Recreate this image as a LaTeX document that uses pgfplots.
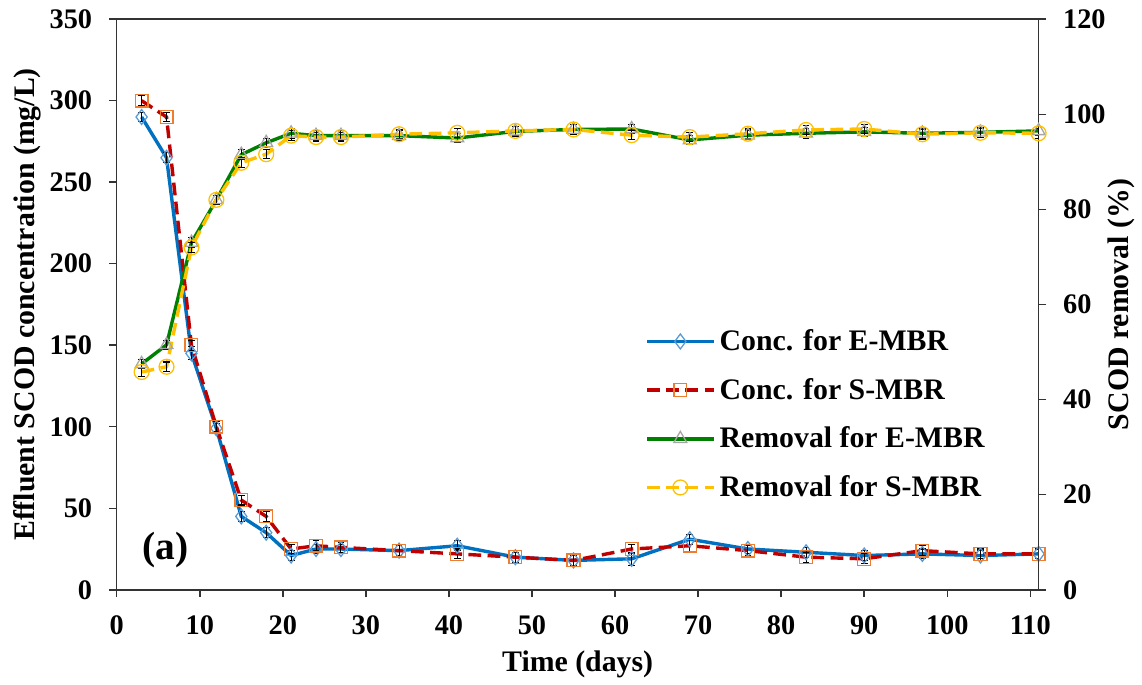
\documentclass[border=0pt]{standalone}
\usepackage{fontspec}
\setmainfont{Liberation Serif}
\usepackage{pgfplots}
\pgfplotsset{compat=1.18}
\definecolor{cblue}{RGB}{0,112,192}
\definecolor{cblueM}{RGB}{91,155,213}
\definecolor{cred}{RGB}{192,0,0}
\definecolor{credM}{RGB}{237,125,49}
\definecolor{cgreen}{RGB}{0,128,0}
\definecolor{cgrayM}{RGB}{165,165,165}
\definecolor{cyellow}{RGB}{255,192,0}
\pgfplotsset{
  myerr/.style={error bars/.cd, y dir=both, y explicit,
    error mark options={rotate=90, mark size=1.6pt, black, line width=0.5pt},
    error bar style={black, line width=0.5pt}},
}
\begin{document}
\begin{tikzpicture}
\begin{axis}[
  name=ax,
  scale only axis, width=433pt, height=268pt,
  xmin=0, xmax=111, ymin=0, ymax=350,
  xtick={0,10,...,110}, ytick={0,50,...,350},
  xtick pos=bottom, ytick pos=left,
  tick align=outside, major tick length=3.5pt,
  axis line style={black!80, line width=0.7pt},
  every tick/.style={black!80, line width=0.7pt},
  tick label style={font=\fontsize{13.3}{15}\selectfont\bfseries},
  xticklabel style={yshift=-5pt},
  yticklabel style={xshift=-4.5pt},
  /pgf/number format/assume math mode=true,
  label style={font=\fontsize{14}{16}\selectfont\bfseries},
  xlabel={Time (days)},
  ylabel={Effluent SCOD concentration (mg/L)},
  xlabel style={at={(rel axis cs:0.5,0)}, anchor=north, yshift=-25pt},
  ylabel style={at={(rel axis cs:0,0.5)}, anchor=south, rotate=0, yshift=32pt},
]
\addplot[cblue, line width=1.6pt, mark=diamond, mark size=3.5pt,
  mark options={solid, draw=cblueM, fill=none, line width=0.6pt}, myerr] coordinates {
(3,290) +- (0,3) (6,265) +- (0,3) (9,145) +- (0,4) (12,99) +- (0,3)
(15,45) +- (0,3) (18,35) +- (0,3) (21,21) +- (0,3) (24,25) +- (0,3)
(27,25) +- (0,3) (34,24) +- (0,3) (41,27) +- (0,3) (48,20) +- (0,3)
(55,18) +- (0,3) (62,19) +- (0,4) (69,31) +- (0,3) (76,25) +- (0,3)
(83,23) +- (0,3) (90,21) +- (0,3) (97,22) +- (0,3) (104,21) +- (0,3)
(111,22) +- (0,3)};
\addplot[cred, line width=1.6pt, dash pattern=on 6pt off 3pt, mark=square, mark size=3pt,
  mark options={solid, draw=credM, fill=none, line width=0.6pt}, myerr] coordinates {
(3,300) +- (0,3) (6,290) +- (0,3) (9,150) +- (0,3) (12,100) +- (0,3)
(15,55) +- (0,3) (18,45) +- (0,3) (21,25) +- (0,3) (24,27) +- (0,3)
(27,26) +- (0,3) (34,24) +- (0,3) (41,22) +- (0,3) (48,20) +- (0,3)
(55,18) +- (0,3) (62,25) +- (0,3) (69,27) +- (0,4) (76,24) +- (0,3)
(83,20) +- (0,3) (90,19) +- (0,3) (97,24) +- (0,3) (104,22) +- (0,3)
(111,22) +- (0,3)};
\node[anchor=south west, font=\fontsize{18.5}{21}\selectfont\bfseries] at (rel axis cs:0.02,0.025) {(a)};
\end{axis}
\begin{axis}[
  scale only axis, width=433pt, height=268pt,
  xmin=0, xmax=111, ymin=0, ymax=120,
  axis x line=none, axis y line*=right,
  ytick={0,20,...,120},
  tick align=outside, major tick length=3.5pt,
  axis line style={black!80, line width=0.7pt},
  every tick/.style={black!80, line width=0.7pt},
  tick label style={font=\fontsize{13.3}{15}\selectfont\bfseries},
  yticklabel style={xshift=4.5pt},
  /pgf/number format/assume math mode=true,
  label style={font=\fontsize{14}{16}\selectfont\bfseries},
  ylabel={SCOD removal (\%)},
  ylabel style={at={(rel axis cs:1,0.5)}, anchor=north, rotate=0, yshift=-29pt},
  legend style={draw=none, fill=none, at={(0.566,0.472)}, anchor=north west,
    font=\fontsize{14}{16}\selectfont\bfseries, row sep=7.5pt},
  legend cell align=left,
  legend image code/.code={
    \draw[#1, mark repeat=2, mark phase=2] plot coordinates {(0cm,0cm) (0.55cm,0cm) (1.1cm,0cm)};},
]
\addlegendimage{cblue, line width=1.6pt, mark=diamond, mark size=3.5pt, mark options={solid, draw=cblueM, fill=none, line width=0.6pt}}
\addlegendentry{Conc. for E-MBR}
\addlegendimage{cred, line width=1.6pt, dash pattern=on 6pt off 3pt, mark=square, mark size=3pt, mark options={solid, draw=credM, fill=none, line width=0.6pt}}
\addlegendentry{Conc. for S-MBR}
\addplot[cgreen, line width=1.6pt, mark=triangle, mark size=3.5pt,
  mark options={solid, draw=cgrayM, fill=none, line width=0.6pt}, myerr] coordinates {
(3,47.5) +- (0,1) (6,51.5) +- (0,1) (9,73) +- (0,1) (12,82) +- (0,1)
(15,91.5) +- (0,1) (18,94) +- (0,1) (21,96) +- (0,1) (24,95.5) +- (0,1)
(27,95.5) +- (0,1) (34,95.5) +- (0,1) (41,95) +- (0,1) (48,96.4) +- (0,1)
(55,96.8) +- (0,1) (62,96.9) +- (0,1) (69,94.6) +- (0,1) (76,95.6) +- (0,1)
(83,96) +- (0,1) (90,96.3) +- (0,1) (97,96) +- (0,1) (104,96.2) +- (0,1)
(111,96.5) +- (0,1)};
\addlegendentry{Removal for E-MBR}
\addplot[cyellow, line width=1.6pt, dash pattern=on 6pt off 3pt, mark=o, mark size=3.5pt,
  mark options={solid, draw=cyellow, fill=none, line width=0.6pt}, myerr] coordinates {
(3,45.8) +- (0,1) (6,46.9) +- (0,1) (9,72) +- (0,1) (12,82) +- (0,1)
(15,89.8) +- (0,1) (18,91.6) +- (0,1) (21,95.5) +- (0,1) (24,95.2) +- (0,1)
(27,95.2) +- (0,1) (34,95.8) +- (0,1) (41,96.1) +- (0,1) (48,96.5) +- (0,1)
(55,96.8) +- (0,1) (62,95.6) +- (0,1) (69,95.2) +- (0,1) (76,95.9) +- (0,1)
(83,96.7) +- (0,1) (90,96.9) +- (0,1) (97,95.8) +- (0,1) (104,96.1) +- (0,1)
(111,96) +- (0,1)};
\addlegendentry{Removal for S-MBR}
\end{axis}
\path (ax.north west) -- ++(0pt,9pt);
\path (current bounding box.west) -- ++(-3pt,0pt);
\end{tikzpicture}
\end{document}
